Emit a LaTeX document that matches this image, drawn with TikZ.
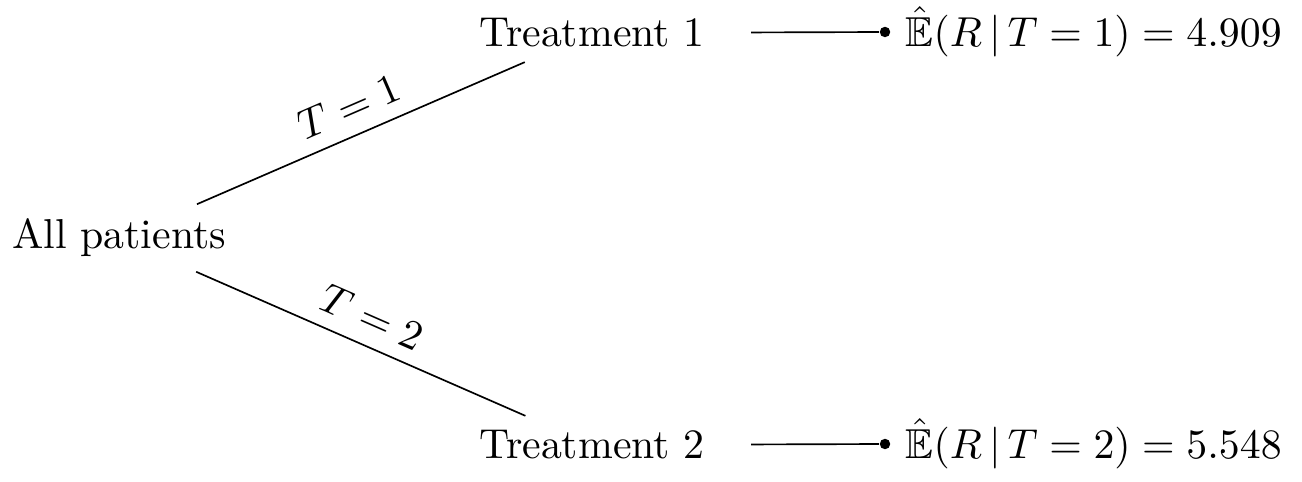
\documentclass[tikz,border=0pt]{standalone}
\usepackage{amsmath,amssymb}
\begin{document}
\begin{tikzpicture}[x=0.2392pt, y=-0.2392pt]
	\tikzstyle{dot} = [circle, fill, inner sep=0pt, minimum size=2.5pt]
	\tikzstyle{branch} = [midway, above, sloped]
	\tikzstyle{result} = [label distance=0pt]
	\useasboundingbox (0,0) rectangle (1302,482);
	\node (all) at (119,238) {All patients};
	\node (t1) at (592,33) {Treatment 1};
	\node (t2) at (592,445) {Treatment 2};
	\node[dot, label={[result]right:$\hat{\mathbb{E}}(R\,|\,T=1)=4.909$}] (e1) at (885,32) {};
	\node[dot, label={[result]right:$\hat{\mathbb{E}}(R\,|\,T=2)=5.548$}] (e2) at (885,444) {};
	\draw (all) -- node[branch]{$T=1$} (t1);
	\draw (all) -- node[branch]{$T=2$} (t2);
	\draw[shorten <=7.6pt] (t1) -- (e1);
	\draw[shorten <=7.6pt] (t2) -- (e2);
\end{tikzpicture}
\end{document}
